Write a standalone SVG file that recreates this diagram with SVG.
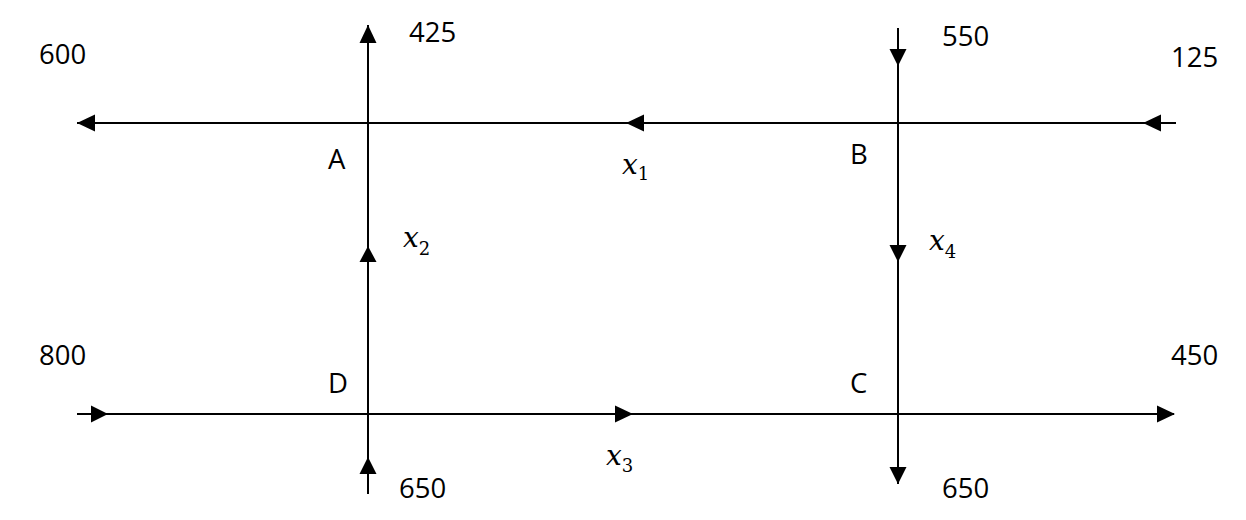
<svg xmlns="http://www.w3.org/2000/svg" width="1246" height="520" viewBox="0 0 1246 520">
<style>
.ln{stroke:#000;stroke-width:2;fill:none}
.ah{fill:#000}
.lb{font-family:"Open Sans","Liberation Sans",sans-serif;font-size:27.5px;fill:#000}
.mx{font-family:"DejaVu Serif","Liberation Serif",serif;font-style:italic;font-size:28px;fill:#000}
.sb{font-family:"DejaVu Serif","Liberation Serif",serif;font-style:normal;font-size:18px}
</style>
<rect width="1246" height="520" fill="#fff"/>
<g id="connectors">
<line class="ln" x1="77" y1="123" x2="1176" y2="123"/>
<line class="ln" x1="368" y1="25" x2="368" y2="494"/>
<line class="ln" x1="898" y1="28" x2="898" y2="484"/>
<line class="ln" x1="77" y1="414" x2="1174" y2="414"/>
<polygon class="ah" points="77,123 95,114.5 95,131.5"/>
<polygon class="ah" points="626,123 644,114.5 644,131.5"/>
<polygon class="ah" points="1143,123 1161,114.5 1161,131.5"/>
<polygon class="ah" points="368,25 359.5,43 376.5,43"/>
<polygon class="ah" points="368,246 359.5,262 376.5,262"/>
<polygon class="ah" points="368,457 359.5,474 376.5,474"/>
<polygon class="ah" points="898,66 889.5,49 906.5,49"/>
<polygon class="ah" points="898,262 889.5,245 906.5,245"/>
<polygon class="ah" points="898,484 889.5,467 906.5,467"/>
<polygon class="ah" points="108,414 91,405.5 91,422.5"/>
<polygon class="ah" points="633,414 615,405.5 615,422.5"/>
<polygon class="ah" points="1175,414 1157,405.5 1157,422.5"/>
</g>
<g id="node-A"><text class="lb" x="328" y="169">A</text></g>
<g id="node-B"><text class="lb" x="850" y="164">B</text></g>
<g id="node-C"><text class="lb" x="850" y="393">C</text></g>
<g id="node-D"><text class="lb" x="328" y="393">D</text></g>
<g id="labels">
<text class="lb" x="39" y="64">600</text>
<text class="lb" x="409" y="42">425</text>
<text class="lb" x="942" y="46">550</text>
<text class="lb" x="1171" y="67">125</text>
<text class="lb" x="39" y="365">800</text>
<text class="lb" x="1171" y="365">450</text>
<text class="lb" x="399" y="498">650</text>
<text class="lb" x="942" y="498">650</text>
<text class="mx" x="622" y="174">x<tspan class="sb" dy="6">1</tspan></text>
<text class="mx" x="403" y="247">x<tspan class="sb" dy="8">2</tspan></text>
<text class="mx" x="606" y="465">x<tspan class="sb" dy="7">3</tspan></text>
<text class="mx" x="929" y="250">x<tspan class="sb" dy="8">4</tspan></text>
</g>
</svg>
